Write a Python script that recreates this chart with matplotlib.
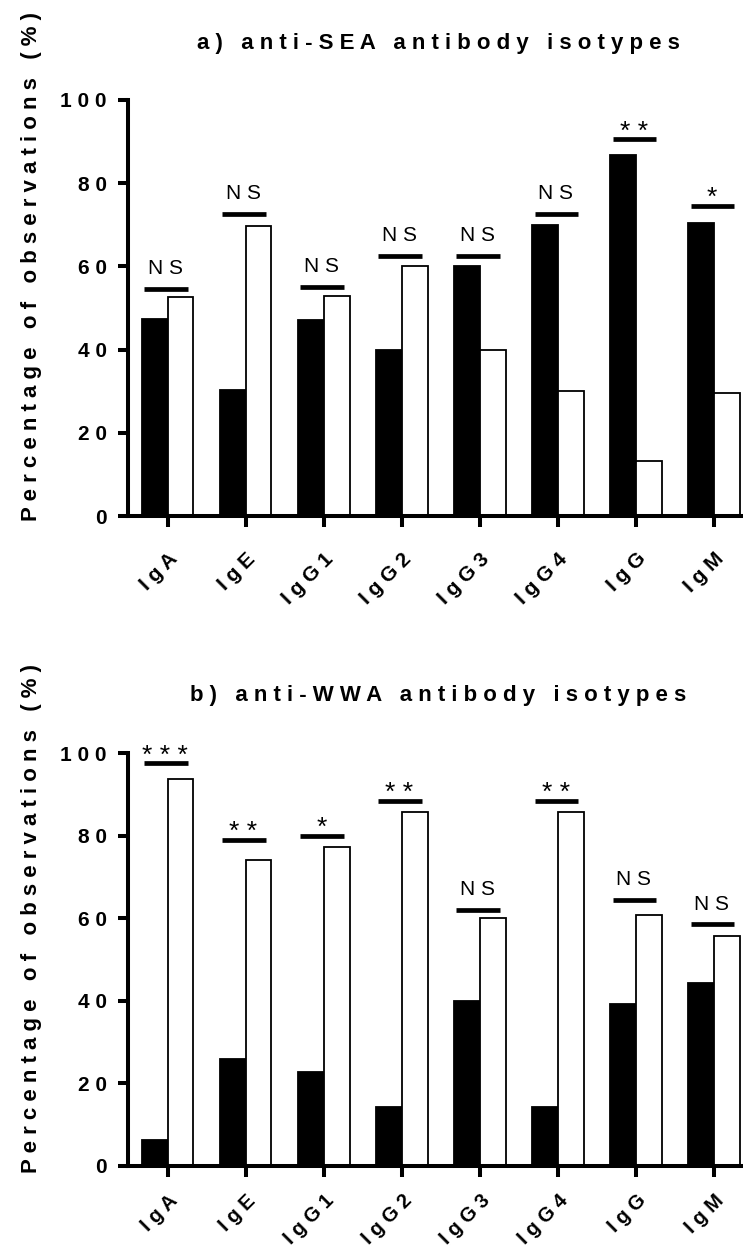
import matplotlib
matplotlib.use('Agg')
import matplotlib.pyplot as plt
import numpy as np

plt.rcParams['font.family'] = ['Liberation Sans', 'DejaVu Sans']

isotypes = ['IgA', 'IgE', 'IgG1', 'IgG2', 'IgG3', 'IgG4', 'IgG', 'IgM']

# a) anti-SEA : black / white groups
sea_black = [47.4, 30.4, 47.1, 40.0, 60.0, 70.0, 86.7, 70.4]
sea_white = [52.6, 69.6, 52.9, 60.0, 40.0, 30.0, 13.3, 29.6]
sea_line = [54.5, 72.5, 55.0, 62.5, 62.5, 72.5, 90.5, 74.5]
sea_sig = ['NS', 'NS', 'NS', 'NS', 'NS', 'NS', '**', '*']

# b) anti-WWA
wwa_black = [6.3, 25.8, 22.7, 14.3, 40.0, 14.3, 39.2, 44.4]
wwa_white = [93.7, 74.2, 77.3, 85.7, 60.0, 85.7, 60.8, 55.6]
wwa_line = [97.5, 79.0, 80.0, 88.5, 62.0, 88.5, 64.5, 58.5]
wwa_sig = ['***', '**', '*', '**', 'NS', '**', 'NS', 'NS']

yticks = [0, 20, 40, 60, 80, 100]


def sp(s):
    # prism style letter spacing
    return ' '.join(s)


def panel(ax, black, white, lines, sig, title, title_y, xpad=16, xfs=15):
    x = np.arange(len(isotypes))
    w = 0.33
    ax.bar(x - w / 2, black, w, color='black', edgecolor='black', lw=1.3)
    ax.bar(x + w / 2, white, w, color='white', edgecolor='black', lw=1.3)
    for xi, yl, s in zip(x, lines, sig):
        ax.hlines(yl, xi - 0.30, xi + 0.26, color='black', lw=3.4, clip_on=False)
        if s == 'NS':
            ax.text(xi - 0.03, yl + 3.6, sp(s), ha='center', va='baseline',
                    fontsize=15, clip_on=False)
        else:
            ax.text(xi - 0.03, yl + 0.2, sp(s), ha='center', va='baseline',
                    fontsize=19, clip_on=False)
    ax.set_xlim(-0.51, 7.37)
    ax.set_ylim(0, 100)
    ax.set_yticks(yticks)
    ax.set_yticklabels([sp(str(t)) for t in yticks], fontsize=15, fontweight='bold')
    ax.set_xticks(x)
    ax.set_xticklabels([sp(t) for t in isotypes], fontsize=xfs, fontweight='bold',
                       rotation=45, ha='right', va='top', rotation_mode='anchor')
    for s in ['top', 'right']:
        ax.spines[s].set_visible(False)
    for s in ['left', 'bottom']:
        ax.spines[s].set_linewidth(2.9)
    ax.tick_params(axis='y', direction='out', length=7, width=2.9, pad=8)
    ax.tick_params(axis='x', direction='out', length=8, width=2.9, pad=xpad)
    ax.set_ylabel(sp('Percentage of observations (%)'), fontsize=16,
                  fontweight='bold')
    ax.figure.text(0.59, title_y, sp(title), ha='center', va='center',
                   fontsize=16, fontweight='bold')


fig = plt.figure(figsize=(7.43, 12.54), dpi=100)
ax1 = fig.add_axes([0.172, 0.5885, 0.828, 0.3318])
ax2 = fig.add_axes([0.172, 0.0702, 0.828, 0.3293])

panel(ax1, sea_black, sea_white, sea_line, sea_sig,
      'a) anti-SEA antibody isotypes', 1 - 44 / 1254)
panel(ax2, wwa_black, wwa_white, wwa_line, wwa_sig,
      'b) anti-WWA antibody isotypes', 1 - 696 / 1254, xpad=10, xfs=14.5)

ax1.yaxis.set_label_coords(-0.14, 0.6)
ax2.yaxis.set_label_coords(-0.14, 0.6)

fig.savefig('out.png', dpi=100)
